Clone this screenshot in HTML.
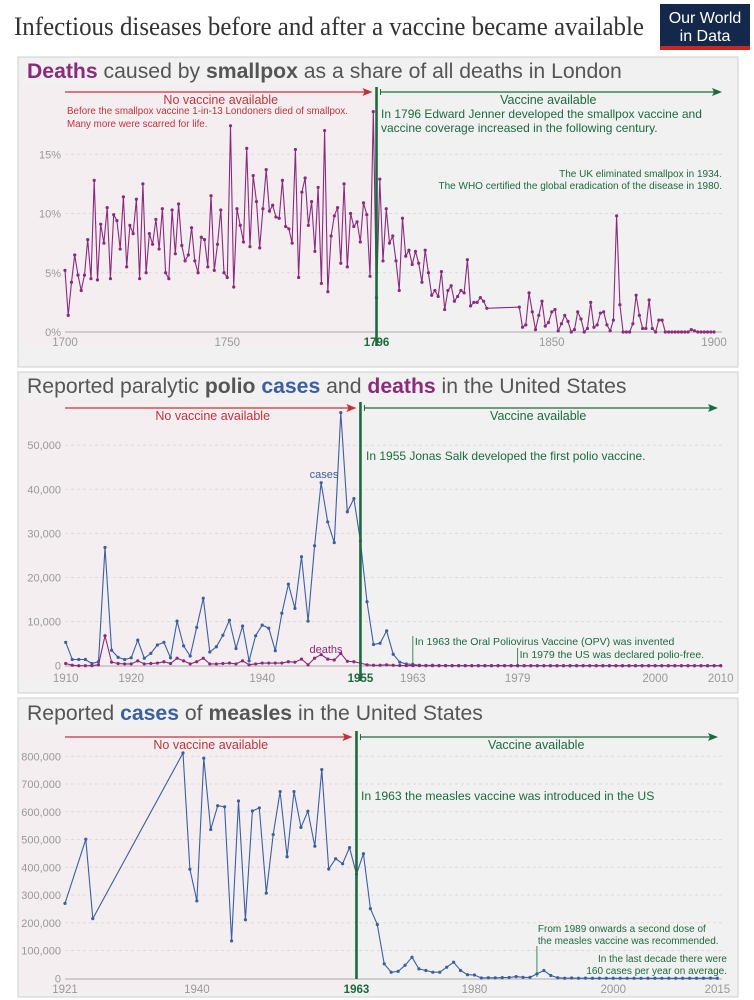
<!DOCTYPE html>
<html><head><meta charset="utf-8"><style>
html,body{margin:0;padding:0;background:#fff;}
svg{display:block;font-family:"Liberation Sans",sans-serif;}
</style></head><body>
<svg id="c" width="754" height="1000" viewBox="0 0 754 1000" xmlns="http://www.w3.org/2000/svg">
<text x="14" y="35" font-family="Liberation Serif, serif" font-size="26" fill="#333" textLength="630" lengthAdjust="spacingAndGlyphs">Infectious diseases before and after a vaccine became available</text>
<g>
<rect x="660" y="4" width="90" height="46" fill="#14284b"/>
<rect x="660" y="46" width="90" height="4" fill="#ce261e"/>
<text x="705" y="23" font-size="16" fill="#fff" text-anchor="middle">Our World</text>
<text x="705" y="41" font-size="16" fill="#fff" text-anchor="middle">in Data</text>
</g>
<g id="p1"></g>
<g id="p2"></g>
<g id="p3"></g>
</svg>
<script>
// ---------- data ----------
const spYearsPre = 1700;
const spValuesPre = [5.2,1.4,4.2,6.5,4.8,3.5,4.8,7.8,4.5,12.8,4.4,9.1,7.5,10.5,4.5,9.9,9.4,7.0,11.4,5.5,9.0,8.3,11.2,4.5,12.5,5.0,8.3,7.4,9.5,7.0,10.4,5.0,4.5,10.3,6.6,10.8,7.3,6.0,6.5,8.8,6.0,5.0,8.0,7.8,5.5,11.5,5.2,7.4,10.3,5.0,4.6,17.4,3.8,10.4,9.0,7.6,15.5,7.2,13.2,11.0,7.1,10.4,13.7,10.2,10.7,9.7,9.6,12.8,8.9,8.7,7.5,15.4,4.6,11.8,13.0,9.0,11.0,6.8,12.2,4.1,17.0,3.4,8.1,9.8,10.5,5.8,12.5,5.5,10.0,8.9,9.3,7.6,10.9,9.9,4.7,18.6,2.9];
const spYearsPost = [1797,1798,1799,1800,1801,1802,1803,1804,1805,1806,1807,1808,1809,1810,1811,1812,1813,1814,1815,1816,1817,1818,1819,1820,1821,1822,1823,1824,1825,1826,1827,1828,1829,1830,1840,1841,1842,1843,1844,1845,1846,1847,1848,1849,1850,1851,1852,1853,1854,1855,1856,1857,1858,1859,1860,1861,1862,1863,1864,1865,1866,1867,1868,1869,1870,1871,1872,1873,1874,1875,1876,1877,1878,1879,1880,1881,1882,1883,1884,1885,1886,1887,1888,1889,1890,1891,1892,1893,1894,1895,1896,1897,1898,1899,1900];
const spValuesPost = [12.9,6.0,10.4,7.5,8.1,6.0,3.5,9.6,6.4,6.9,5.7,6.8,5.8,4.2,6.9,5.0,3.1,3.5,3.0,5.1,1.9,3.5,3.9,2.6,3.0,3.5,3.3,6.1,2.2,2.5,2.5,2.9,2.6,2.0,2.1,0.4,0.6,3.3,1.7,0.2,1.4,2.6,0.5,0.8,1.7,1.9,0.1,0.7,1.4,0.9,0.0,0.2,1.7,1.1,0.0,0.3,2.5,0.4,0.6,1.6,1.7,0.6,0.1,1.0,9.8,2.3,0,0,0,0.7,3.1,1.4,0.3,0.3,2.7,0.3,0,1.0,1.0,0,0,0,0,0,0,0,0,0.2,0.1,0,0,0,0,0,0];
const spTicksY = [0,5,10,15];
const spTickLabelsY = ["0%","5%","10%","15%"];
const spTicksX = [1700,1750,1796,1850,1900];

const polioStart = 1910;
const polioCases = [5.3,1.4,1.4,1.4,0.5,0.9,26.8,3.5,1.9,1.4,1.8,5.8,1.7,2.8,4.7,5.3,1.8,10.1,4.5,2.2,8.7,15.3,3.1,4.3,6.9,10.3,3.9,9.0,1.1,6.8,9.2,8.5,3.4,11.9,18.5,13.0,24.7,10.1,27.2,41.5,32.6,27.9,57.4,34.9,37.9,28.3,14.5,4.8,5.1,7.9,2.6,0.8,0.4,0.3,0.1,0.06,0.1,0.04,0.05,0.03,0.03,0.02,0.01,0.01,0.01,0.01,0.01,0.01,0.01,0.01,0,0,0,0,0,0,0,0,0,0,0,0,0,0,0,0,0,0,0,0,0,0,0,0,0,0,0,0,0,0,0];
const polioDeaths = [0.5,0.1,0,0,0,0.2,6.8,0.8,0.5,0.4,0.4,1.1,0.4,0.5,0.6,0.9,0.5,1.7,1.1,0.4,0.9,1.7,0.4,0.4,0.5,0.6,0.4,1.1,0.2,0.4,0.6,0.6,0.6,0.6,0.9,0.8,1.5,0.2,1.7,2.5,1.5,1.3,2.8,1.0,0.9,0.6,0.2,0.1,0.1,0.2,0.1,0.05,0.03,0.02,0.01,0,0,0,0,0,0,0,0,0,0,0,0,0,0,0,0,0,0,0,0,0,0,0,0,0,0,0,0,0,0,0,0,0,0,0,0,0,0,0,0,0,0,0,0,0,0];
const polioTicksY = [0,10,20,30,40,50];
const polioTickLabelsY = ["0","10,000","20,000","30,000","40,000","50,000"];
const polioTicksX = [1910,1920,1940,1955,1963,1979,2000,2010];

const measlesYears = [1921,1924,1925,1938,1939,1940,1941,1942,1943,1944,1945,1946,1947,1948,1949,1950,1951,1952,1953,1954,1955,1956,1957,1958,1959,1960,1961,1962,1963,1964,1965,1966,1967,1968,1969,1970,1971,1972,1973,1974,1975,1976,1977,1978,1979,1980,1981,1982,1983,1984,1985,1986,1987,1988,1989,1990,1991,1992,1993,1994,1995,1996,1997,1998,1999,2000,2001,2002,2003,2004,2005,2006,2007,2008,2009,2010,2011,2012,2013,2014,2015];
const measlesValues = [270,501,215,812,393,279,793,536,622,618,135,639,211,603,614,307,518,673,438,673,544,602,476,752,394,431,413,471,375,449,251,194,52,22,25,47,76,34,28,22,22,40,58,28,13,12,1,2,1.5,2.6,2.8,6,3.6,3.4,16,28,10,2,0.3,1,0.3,0.5,0.1,0.1,0.1,0.1,0.1,0.04,0.06,0.04,0.07,0.06,0.04,0.1,0.07,0.06,0.2,0.05,0.2,0.7,0.2];
const measlesTicksY = [0,100,200,300,400,500,600,700,800];
const measlesTickLabelsY = ["0","100,000","200,000","300,000","400,000","500,000","600,000","700,000","800,000"];
const measlesTicksX = [1921,1940,1963,1980,2000,2015];

// ---------- helpers ----------
const NS="http://www.w3.org/2000/svg";
function mk(parent,tag,attrs,text){const e=document.createElementNS(NS,tag);for(const k in attrs)e.setAttribute(k,attrs[k]);if(text!==undefined)e.textContent=text;parent.appendChild(e);return e;}
const RED="#c2343a",GREEN="#1c6b3e",PURPLE="#8c2a7e",BLUE="#3b5fa3",GREY="#999";

function panel(g,y0,y1,vx,plotTop,baseY){
  const bg=mk(g,'rect',{x:18,y:y0,width:720,height:y1-y0,fill:"#f1f1f1",stroke:"#cfcfcf"});
  
  
  const pre=mk(g,'rect',{x:19,y:plotTop,width:vx-19,height:baseY-plotTop+14,fill:"#f4eef0"});
  
  
}
function arrows(g,y,vx,xStart,xEnd){
  const a=mk(g,'line',{x1:xStart,y1:y,x2:vx-10,y2:y,stroke:RED,"stroke-width":1.3});
  
  
  mk(g,'path',{d:`M${vx-4},${y} L${vx-14},${y-4} L${vx-12},${y} L${vx-14},${y+4}Z`,fill:RED});
  const b=mk(g,'line',{x1:vx+4,y1:y,x2:xEnd-4,y2:y,stroke:GREEN,"stroke-width":1.3});
  
  
  mk(g,'line',{x1:vx+4,y1:y-3,x2:vx+4,y2:y+3,stroke:GREEN,"stroke-width":1});
  mk(g,'path',{d:`M${xEnd+2},${y} L${xEnd-8},${y-4} L${xEnd-6},${y} L${xEnd-8},${y+4}Z`,fill:GREEN});
  const t1=mk(g,'text',{x:(xStart+vx)/2,y:y+12,"font-size":12.5,fill:RED,"text-anchor":"middle"},"No vaccine available");
  
  
  const t2=mk(g,'text',{x:(vx+xEnd)/2,y:y+12,"font-size":12.5,fill:GREEN,"text-anchor":"middle"},"Vaccine available");
  
  
}
function title(g,y,parts){
  const t=mk(g,'text',{x:27,y:y,"font-size":21.2,fill:"#555"});
  
  
  parts.forEach(p=>{mk(t,'tspan',p[1]?{"font-weight":"bold",fill:p[1]}:{},p[0]);});
}
function yAxis(g,ticks,labels,ys,xLeft,xRight){
  ticks.forEach((v,i)=>{
    if(v!==0){const gl=mk(g,'line',{x1:xLeft,y1:ys(v),x2:xRight,y2:ys(v),stroke:"#dcdcdc","stroke-dasharray":"3,3"});
    
    }
    const t=mk(g,'text',{x:61,y:ys(v)+4,"font-size":11,fill:GREY,"text-anchor":"end"},labels[i]);
    
    
  });
}
function xAxis(g,ticks,xs,y,base,xLeft,xRight,bold){
  const ax=mk(g,'line',{x1:xLeft,y1:base,x2:xRight,y2:base,stroke:"#aaa","stroke-width":1});
  
  
  ticks.forEach(v=>{
    const isB=v===bold;
    const t=mk(g,'text',{x:xs(v),y:y,"font-size":11.5,fill:isB?GREEN:GREY,"font-weight":isB?"bold":"normal","text-anchor":"middle"},String(v));
    
    
  });
}
function series(g,xsArr,vals,xs,ys,color,name){
  let d="";xsArr.forEach((x,i)=>{d+=(i?"L":"M")+xs(x).toFixed(1)+","+ys(vals[i]).toFixed(1);});
  const p=mk(g,'path',{d:d,fill:"none",stroke:color,"stroke-width":1.1});
  
  
  xsArr.forEach((x,i)=>{
    const c=mk(g,'circle',{cx:xs(x),cy:ys(vals[i]),r:1.6,fill:color});
    
    
  });
}
function vline(g,x,y1,y2){
  const l=mk(g,'line',{x1:x,y1:y1,x2:x,y2:y2,stroke:GREEN,"stroke-width":2.6});
  
  
}
function note(g,x,y,txt,size,color,anchor,name){
  const t=mk(g,'text',{x:x,y:y,"font-size":size,fill:color,"text-anchor":anchor||"start"},txt);
  
  
}

// ---------- panel 1: smallpox ----------
(function(){
  const g=document.getElementById('p1');
  const xs=y=>65+(y-1700)*3.245, ys=v=>332-v*11.85;
  const vx=xs(1796);
  panel(g,57,367,vx,85,332);
  title(g,78,[["Deaths",PURPLE],[" caused by "],["smallpox","#555"],[" as a share of all deaths in London"]]);
  yAxis(g,spTicksY,spTickLabelsY,ys,65,722);
  xAxis(g,spTicksX,xs,346,332,65,722,1796);
  arrows(g,92,vx,65,720);
  note(g,67,114,"Before the smallpox vaccine 1-in-13 Londoners died of smallpox.",9.8,RED,"start","pre-vaccine-note");
  note(g,67,127,"Many more were scarred for life.",9.8,RED,"start","pre-vaccine-note");
  note(g,381,118,"In 1796 Edward Jenner developed the smallpox vaccine and",12,GREEN,"start","vaccine-note");
  note(g,381,132,"vaccine coverage increased in the following century.",12,GREEN,"start","vaccine-note");
  note(g,722,177,"The UK eliminated smallpox in 1934.",10,GREEN,"end","eradication-note");
  note(g,722,189,"The WHO certified the global eradication of the disease in 1980.",10,GREEN,"end","eradication-note");
  const yrs=spValuesPre.map((v,i)=>spYearsPre+i);
  series(g,yrs.concat(spYearsPost),spValuesPre.concat(spValuesPost),xs,ys,PURPLE,'smallpox-deaths');
  vline(g,vx,87,346);
})();

// ---------- panel 2: polio ----------
(function(){
  const g=document.getElementById('p2');
  const xs=y=>65.7+(y-1910)*6.55, ys=v=>665.7-v*4.41;
  const vx=xs(1955);
  panel(g,372,693,vx,400,665.7);
  title(g,393,[["Reported paralytic "],["polio","#555"],[" "],["cases",BLUE],[" and "],["deaths",PURPLE],[" in the United States"]]);
  yAxis(g,polioTicksY,polioTickLabelsY,ys,65,722);
  xAxis(g,polioTicksX,xs,682,666,65,722,1955);
  arrows(g,408,vx,65,716);
  note(g,366,460,"In 1955 Jonas Salk developed the first polio vaccine.",12,GREEN,"start","polio-vaccine-note");
  const yrs=polioCases.map((v,i)=>polioStart+i);
  series(g,yrs,polioCases,xs,ys,BLUE,'polio-cases');
  series(g,yrs,polioDeaths,xs,ys,PURPLE,'polio-deaths');
  note(g,324,478,"cases",11,BLUE,"middle","cases-series-label");
  note(g,326,653,"deaths",11,PURPLE,"middle","deaths-series-label");
  mk(g,'line',{x1:xs(1963),y1:636,x2:xs(1963),y2:665,stroke:GREEN,"stroke-width":0.8});
  note(g,xs(1963)+2,645,"In 1963 the Oral Poliovirus Vaccine (OPV) was invented",10.5,GREEN,"start","opv-note");
  mk(g,'line',{x1:xs(1979),y1:648,x2:xs(1979),y2:665,stroke:GREEN,"stroke-width":0.8});
  note(g,xs(1979)+2,658,"In 1979 the US was declared polio-free.",10.5,GREEN,"start","polio-free-note");
  vline(g,vx,402,681);
})();

// ---------- panel 3: measles ----------
(function(){
  const g=document.getElementById('p3');
  const xs=y=>65+(y-1921)*6.94, ys=v=>978.3-v*0.2775;
  const vx=xs(1963);
  panel(g,698,997,vx,728,978.3);
  title(g,720,[["Reported "],["cases",BLUE],[" of "],["measles","#555"],[" in the United States"]]);
  yAxis(g,measlesTicksY,measlesTickLabelsY,ys,65,722);
  xAxis(g,measlesTicksX,xs,993,979,65,722,1963);
  arrows(g,737,vx,65,716);
  note(g,361,800,"In 1963 the measles vaccine was introduced in the US",12.2,GREEN,"start","measles-vaccine-note");
  series(g,measlesYears,measlesValues,xs,ys,BLUE,'measles-cases');
  mk(g,'line',{x1:xs(1989),y1:946,x2:xs(1989),y2:977,stroke:GREEN,"stroke-width":0.8});
  note(g,xs(1989)+1,932,"From 1989 onwards a second dose of",10,GREEN,"start","second-dose-note");
  note(g,xs(1989)+1,944,"the measles vaccine was recommended.",10,GREEN,"start","second-dose-note");
  note(g,727,962,"In the last decade there were",10,GREEN,"end","last-decade-note");
  note(g,727,974,"160 cases per year on average.",10,GREEN,"end","last-decade-note");
  vline(g,vx,731,979);
})();
</script>
</body></html>
